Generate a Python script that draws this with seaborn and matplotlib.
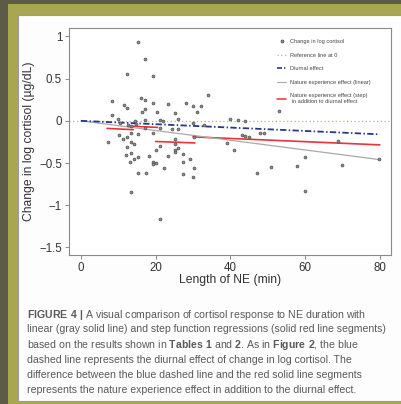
import matplotlib
matplotlib.use("Agg")
import matplotlib.pyplot as plt
import seaborn as sns
import numpy as np
import pandas as pd
from matplotlib.lines import Line2D
from matplotlib.patches import Rectangle

# ---------------- data ----------------
ne_minutes = [15.2, 17.2, 12.2, 19.2, 8.3, 11.4, 12.3, 16.1, 17.2, 19.2, 16.3, 17.2, 20.3, 23.2,
              25.1, 28.2, 30.1, 32.1, 31.1, 34.1, 8.3, 52.9,
              10.0, 14.4, 17.2, 21.1, 22.0, 26.1, 40.0, 42.0, 44.0,
              10.5, 12.5, 13.5, 14.8, 17.1, 30.0, 33.0,
              7.3, 10.2, 11.3, 12.2, 13.3, 12.2, 13.4, 14.3, 15.3, 12.1, 13.3, 13.2, 14.3, 15.3,
              15.2, 17.3, 13.3, 18.2, 19.2, 19.2, 20.1, 20.2, 21.2, 19.2, 21.1, 22.2, 23.2, 24.3,
              25.1, 25.2, 25.2, 25.2, 26.1, 27.2, 27.2, 27.2, 29.1, 30.2, 30.1, 21.2, 26.0, 30.2,
              39.2, 41.0, 43.0, 44.0, 45.0, 47.0, 48.0, 48.9, 50.8, 57.9, 59.9, 59.9, 68.8,
              69.9, 79.8]
log_cortisol_change = [0.93, 0.73, 0.56, 0.53, 0.24, 0.19, 0.15, 0.27, 0.25, 0.21, 0.11, 0.14, 0.11, 0.20,
                       0.09, 0.21, 0.17, 0.18, 0.11, 0.31, 0.07, 0.12,
                       0.02, 0.00, 0.01, 0.01, 0.00, 0.02, 0.02, 0.01, 0.00,
                       -0.03, -0.05, -0.06, -0.04, -0.087, -0.03, -0.05,
                       -0.25, -0.17, -0.21, -0.19, -0.15, -0.31, -0.25, -0.28, -0.16, -0.41, -0.38, -0.49,
                       -0.45, -0.43, -0.62, -0.62, -0.84, -0.42, -0.49, -0.51, -0.50, -0.34, -0.30, -0.15,
                       -0.09, -0.56, -0.42, -0.10, -0.22, -0.27, -0.34, -0.37, -0.32, -0.39, -0.49, -0.63,
                       -0.45, -0.56, -0.66, -1.16, -0.10, -0.19,
                       -0.26, -0.35, -0.17, -0.18, -0.19, -0.62, -0.14, -0.15, -0.55, -0.54, -0.43, -0.83,
                       -0.24, -0.52, -0.45]

diurnal_x = [0, 80]
diurnal_y = [0.0, -0.16]
linear_x = [0, 80]
linear_y = [0.0, -0.46]
step_x = [[7, 14], [14, 20.5], [20, 30.5], [30, 80]]
step_y = [[-0.09, -0.105], [-0.065, -0.078], [-0.245, -0.262], [-0.19, -0.285]]

x_ticks = [0, 20, 40, 60, 80]
y_ticks = [1, 0.5, 0, -0.5, -1, -1.5]
y_tick_labels = ["1", "0.5", "0", "\u22120.5", "\u22121", "\u22121.5"]

legend_labels = ["Change in log cortisol", "Reference line at 0", "Diurnal effect",
                 "Nature experience effect (linear)",
                 "Nature experience effect (step)\n in addition to diurnal effect"]

caption_lines = [
    r"$\mathbf{FIGURE\ 4\ |}$ A visual comparison of cortisol response to NE duration with",
    "linear (gray solid line) and step function regressions (solid red line segments)",
    r"based on the results shown in $\mathbf{Tables\ 1}$ and $\mathbf{2}$. As in $\mathbf{Figure\ 2}$, the blue",
    "dashed line represents the diurnal effect of change in log cortisol. The",
    "difference between the blue dashed line and the red solid line segments",
    "represents the nature experience effect in addition to the diurnal effect.",
]

# ---------------- style ----------------
sns.set_style("white")
plt.rcParams["font.family"] = ["Liberation Sans", "DejaVu Sans"]
plt.rcParams["mathtext.fontset"] = "custom"
plt.rcParams["mathtext.rm"] = "Liberation Sans"
plt.rcParams["mathtext.bf"] = "Liberation Sans:bold"

W, H = 402, 404
fig = plt.figure(figsize=(W / 100, H / 100), dpi=100, facecolor="#5c5b47")


def px_rect(x0, y0, x1, y1, **kw):
    fig.patches.append(Rectangle((x0 / W, 1 - y1 / H), (x1 - x0) / W, (y1 - y0) / H,
                                 transform=fig.transFigure, **kw))


px_rect(8, 4, W, H, facecolor="#a9a650", edgecolor="none", zorder=-3)
px_rect(18, 15, W + 2, 401, facecolor="#fdfdfd", edgecolor="#9a9a9a", linewidth=0.8, zorder=-2)

ax = fig.add_axes([69 / W, 1 - 255 / H, 322 / W, 227 / H])
ax.set_zorder(1)
ax.set_facecolor("white")

df = pd.DataFrame({"NE": ne_minutes, "dcort": log_cortisol_change})

ax.axhline(0, color="#a9b98a", linestyle=(0, (1, 2)), linewidth=0.9, zorder=1)
for xs, ys in zip(step_x, step_y):
    sns.lineplot(x=xs, y=ys, ax=ax, color="#e8323c", linewidth=1.2, zorder=2, sort=False)
sns.lineplot(x=linear_x, y=linear_y, ax=ax, color="#a9a9a9", linewidth=0.9, zorder=2)
sns.lineplot(x=diurnal_x, y=diurnal_y, ax=ax, color="#26388a", linewidth=1.3, zorder=3,
             linestyle=(0, (3.5, 1.3, 0.8, 1.3)))
sns.scatterplot(data=df, x="NE", y="dcort", ax=ax, s=4.5, color="#8a8a8a",
                edgecolor="#4a4a4a", linewidth=0.45, zorder=4)

ax.set_xlim(-3.2, 83)
ax.set_ylim(-1.59, 1.10)
ax.set_xticks(x_ticks)
ax.set_yticks(y_ticks)
ax.set_yticklabels(y_tick_labels)
ax.tick_params(axis="both", direction="out", length=3, width=0.7, color="#8a8a8a",
               labelsize=8.3, labelcolor="#333333", pad=2, left=True, bottom=True)
for sp in ax.spines.values():
    sp.set_color("#8a8a8a")
    sp.set_linewidth(0.8)
ax.set_xlabel("Length of NE (min)", fontsize=8.7, color="#333333", labelpad=0)
ax.set_ylabel("Change in log cortisol (\u00b5g/dL)", fontsize=8.7, color="#333333", labelpad=3)

handles = [
    Line2D([], [], linestyle="none", marker="o", markersize=2.2, markerfacecolor="#8a8a8a",
           markeredgecolor="#4a4a4a", markeredgewidth=0.45),
    Line2D([], [], color="#a9b98a", linestyle=(0, (1, 2)), linewidth=0.9),
    Line2D([], [], color="#26388a", linestyle=(0, (3, 1.2, 0.8, 1.2)), linewidth=1.2),
    Line2D([], [], color="#a9a9a9", linewidth=0.8),
    Line2D([], [], color="#e8323c", linewidth=1.1),
]
leg = fig.legend(handles, legend_labels, loc="upper left", bbox_to_anchor=(277 / W, 1 - 39 / H),
                 frameon=False, fontsize=4.1, handlelength=1.6, handletextpad=0.7,
                 labelspacing=1.5, borderpad=0, borderaxespad=0)
leg.set_zorder(5)
for t in leg.get_texts():
    t.set_color("#444444")

y0 = 313
for i, line in enumerate(caption_lines):
    fig.text(27 / W, 1 - (y0 + i * 15.2) / H, line, fontsize=7.6, color="#5a5a5a",
             ha="left", va="center_baseline")

fig.savefig("out.png", dpi=100, facecolor=fig.get_facecolor())
